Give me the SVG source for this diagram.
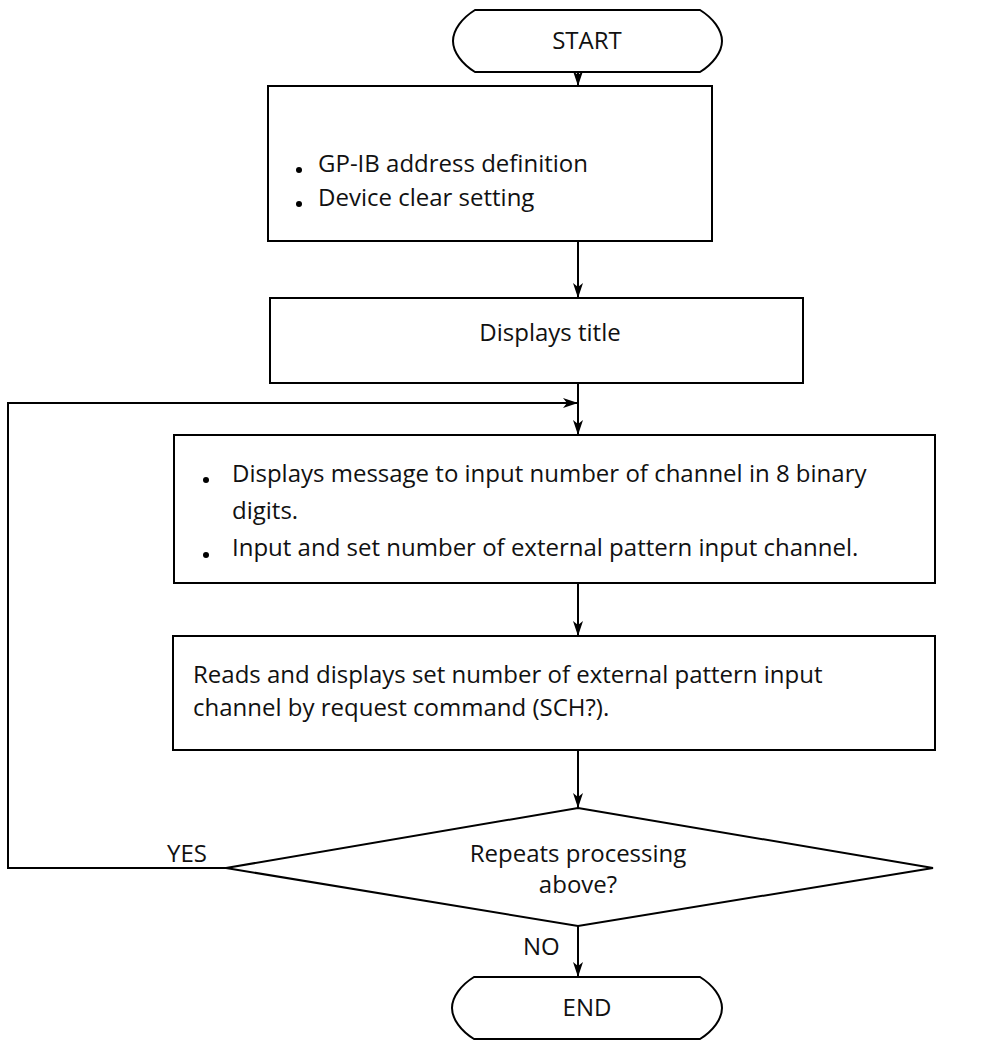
<svg xmlns="http://www.w3.org/2000/svg" width="992" height="1042" viewBox="0 0 992 1042">
<style>
.s{fill:none;stroke:#000;stroke-width:2}
.n{fill:#fff;stroke:#000;stroke-width:2}
text{font-family:"Open Sans","Liberation Sans",sans-serif;font-size:24px;fill:#111}
.c{text-anchor:middle}
.b{fill:#000}
</style>
<defs>
<marker id="ah" markerUnits="userSpaceOnUse" markerWidth="16" markerHeight="10" refX="15" refY="5" orient="auto">
<path d="M0,0 L15,5 L0,10 L4,5 Z" fill="#000"/>
</marker>
</defs>
<g id="connectors">
<line class="s" x1="578" y1="72" x2="578" y2="86" marker-end="url(#ah)"/>
<line class="s" x1="578" y1="241" x2="578" y2="298" marker-end="url(#ah)"/>
<line class="s" x1="578" y1="383" x2="578" y2="435" marker-end="url(#ah)"/>
<polyline class="s" points="226,868 8,868 8,403 578,403" marker-end="url(#ah)"/>
<line class="s" x1="578" y1="583" x2="578" y2="636" marker-end="url(#ah)"/>
<line class="s" x1="578" y1="750" x2="578" y2="808" marker-end="url(#ah)"/>
<line class="s" x1="578" y1="926" x2="578" y2="977" marker-end="url(#ah)"/>
<text x="167" y="862">YES</text>
<text x="523" y="955">NO</text>
</g>
<g id="start">
<path class="n" d="M475,10 H700 C713,18 722,30 722,41 C722,52 713,64 700,72 H475 C462,64 453,52 453,41 C453,30 462,18 475,10 Z"/>
<text class="c" x="587" y="49">START</text>
</g>
<g id="init">
<rect class="n" x="268" y="86" width="444" height="155"/>
<circle class="b" cx="299" cy="170" r="3"/>
<circle class="b" cx="299" cy="204" r="3"/>
<text x="318" y="172">GP-IB address definition</text>
<text x="318" y="206">Device clear setting</text>
</g>
<g id="title">
<rect class="n" x="270" y="298" width="533" height="85"/>
<text class="c" x="550" y="341">Displays title</text>
</g>
<g id="input">
<rect class="n" x="174" y="435" width="761" height="148"/>
<circle class="b" cx="206" cy="480" r="3"/>
<circle class="b" cx="206" cy="555" r="3"/>
<text x="232" y="482">Displays message to input number of channel in 8 binary</text>
<text x="232" y="519">digits.</text>
<text x="232" y="556">Input and set number of external pattern input channel.</text>
</g>
<g id="readback">
<rect class="n" x="173" y="636" width="762" height="114"/>
<text x="193" y="683">Reads and displays set number of external pattern input</text>
<text x="193" y="716">channel by request command (SCH?).</text>
</g>
<g id="decision">
<polygon class="n" points="578,808 933,868 578,926 226,868"/>
<text class="c" x="578" y="862">Repeats processing</text>
<text class="c" x="578" y="893">above?</text>
</g>
<g id="end">
<path class="n" d="M474,977 H700 C713,985 722,997 722,1008 C722,1019 713,1031 700,1039 H474 C461,1031 452,1019 452,1008 C452,997 461,985 474,977 Z"/>
<text class="c" x="587" y="1016">END</text>
</g>
</svg>
